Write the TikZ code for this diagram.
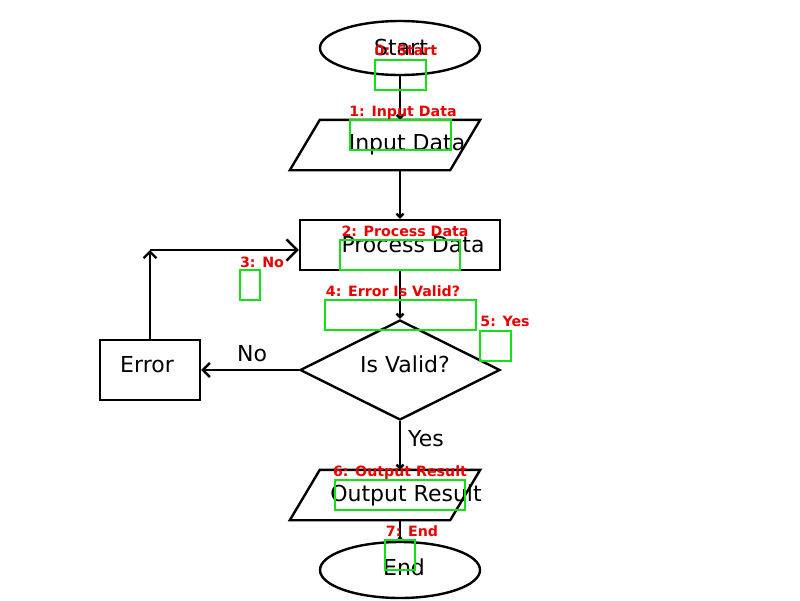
\documentclass[tikz,border=0pt]{standalone}
\usepackage{fontspec}
\setmainfont{DejaVu Sans}
\usetikzlibrary{shapes.geometric,arrows.meta}
\definecolor{boxgreen}{RGB}{20,225,20}
\definecolor{lblred}{RGB}{235,0,0}
\tikzset{
  shp/.style={draw=black, line width=2.4pt, inner sep=0pt},
  term/.style={shp, ellipse, minimum width=160pt},
  parabox/.style={rectangle, inner sep=0pt, minimum width=190pt, minimum height=50pt},
  paraline/.style={draw=black, line width=2.4pt, line join=miter},
  proc/.style={shp, rectangle},
  dec/.style={shp, diamond, minimum width=200pt, minimum height=100pt},
  txt/.style={anchor=base, font=\fontsize{22}{24}\selectfont, inner sep=0pt},
  conn/.style={draw=black, line width=2.4pt},
  tipk/.style={-{Straight Barb[length=#1, width'=0pt 2, line width=2.4pt]}},
  gbox/.style={draw=boxgreen, line width=2.2pt},
  rlab/.style={anchor=base, text=lblred, font=\bfseries\fontsize{14.2}{15}\selectfont, inner sep=0pt},
}
\begin{document}
\begin{tikzpicture}[x=1pt, y=-1pt]
\fill[white] (0,0) rectangle (800,600);
\useasboundingbox (0,0) rectangle (800,600);
% shapes
\node[term, minimum height=54pt] (start) at (400,48) {};
\node[parabox] (inp) at (385,145) {};
\draw[paraline] ([xshift=30pt]inp.north west) -- (inp.north east) -- ([xshift=-30pt]inp.south east) -- (inp.south west) -- cycle;
\node[proc, minimum width=200pt, minimum height=50pt] (pr) at (400,245) {};
\node[dec] (dc) at (400,370) {};
\node[proc, minimum width=100pt, minimum height=60pt] (err) at (150,370) {};
\node[parabox] (out) at (385,495) {};
\draw[paraline] ([xshift=30pt]out.north west) -- (out.north east) -- ([xshift=-30pt]out.south east) -- (out.south west) -- cycle;
\node[term, minimum height=56pt] (end) at (400,570) {};
% connectors
\draw[conn, tipk=3.2pt] (start.south) -- (start.south |- inp.north);
\draw[conn, tipk=3.5pt] (pr.north |- inp.south) -- (pr.north);
\draw[conn, tipk=3.5pt] (pr.south) -- (dc.north);
\draw[conn, tipk=7pt] (dc.west) -- (err.east);
\coordinate (pw) at ([yshift=-5pt]pr.west);
\coordinate (corner) at (err.north |- pw);
\draw[conn, tipk=6.4pt] (err.north) -- (corner);
\draw[conn, tipk=10.6pt] (corner) -- (pw);
\draw[conn, tipk=3.5pt] (dc.south) -- (dc.south |- out.north);
\draw[conn, tipk=1.6pt] (end.north |- out.south) -- (end.north);
% texts
\node[txt] (tstart) at (401,55) {Start};
\node[txt] (tinp) at (407,150) {Input Data};
\node[txt] (tpr) at (413,252) {Process Data};
\node[txt] (tdc) at (405,372) {Is Valid?};
\node[txt] (terr) at (147,372) {Error};
\node[txt] (tno) at (252,361) {No};
\node[txt] (tyes) at (426,446) {Yes};
\node[txt] (tout) at (406,501) {Output Result};
\node[txt] (tend) at (404,575) {End};
% green boxes
\draw[gbox] (375,60) rectangle (426,90);
\draw[gbox] (350,120) rectangle (451,150);
\draw[gbox] (340,240) rectangle (460,270);
\draw[gbox] (240,270) rectangle (260,300);
\draw[gbox] (325,300) rectangle (476,330);
\draw[gbox] (480,331) rectangle (511,361);
\draw[gbox] (335,480) rectangle (465,510);
\draw[gbox] (385,540) rectangle (415,570);
% red labels
\node[rlab] (l0) at (406,55) {0: Start};
\node[rlab] (l1) at (403,116) {1: Input Data};
\node[rlab] (l2) at (405,236) {2: Process Data};
\node[rlab] (l3) at (262,267) {3: No};
\node[rlab] (l4) at (393,296) {4: Error Is Valid?};
\node[rlab] (l5) at (505,326) {5: Yes};
\node[rlab] (l6) at (400,476) {6: Output Result};
\node[rlab] (l7) at (412,536) {7: End};
\end{tikzpicture}
\end{document}
